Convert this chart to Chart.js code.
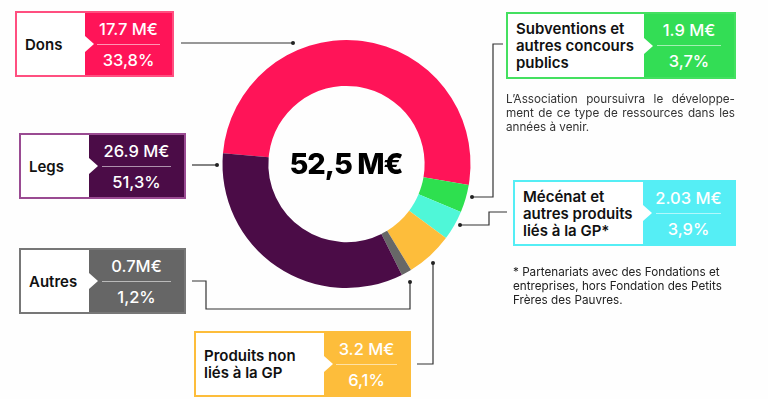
<!DOCTYPE html>
<html>
<head>
<meta charset="utf-8">
<script src="https://cdn.jsdelivr.net/npm/chart.js@4/dist/chart.umd.min.js"></script>
<style>
  html, body { margin: 0; padding: 0; background: #fefefe; }
  body { width: 768px; height: 399px; position: relative; overflow: hidden; font-family: Inter, "Noto Sans", sans-serif; }
  #mycanvas { position: absolute; left: 0; top: 0; }
  #links { position: absolute; left: 0; top: 0; }
  .box { position: absolute; box-sizing: border-box; border: 2px solid; display: flex; }
  .box .lab { background: #fff; position: relative; display: flex; align-items: center; padding-left: 8px; font-weight: 600; font-size: 15px; line-height: 17px; color: #111; }
  .box .lab:after { content: ""; position: absolute; right: -9px; top: 50%; margin-top: -8px; border-left: 9px solid #fff; border-top: 8px solid transparent; border-bottom: 8px solid transparent; z-index: 2; }
  .box .val { flex: 1; display: flex; flex-direction: column; justify-content: center; align-items: center; color: #fff; font-size: 16.5px; font-weight: 500; }
  .box .val .sep { width: 72%; height: 1px; background: rgba(255,255,255,0.55); margin: 5px 0 5px 0; }
  .center { position: absolute; left: 246px; top: 146px; width: 200px; text-align: center; font-size: 29px; font-weight: 800; letter-spacing: -1px; color: #000; }
  .note { position: absolute; font-size: 11.7px; line-height: 14px; color: #333; }
  .note .j { text-align: justify; text-align-last: justify; white-space: nowrap; }
</style>
</head>
<body>
<canvas id="mycanvas" width="768" height="399"></canvas>
<svg id="links" width="768" height="399"></svg>
<div class="center" id="total"></div>
<div id="boxes"></div>
<div class="note" style="left:506px;top:92px;width:229px;">
  <div class="j" style="white-space:normal">L’Association poursuivra le développe-</div>
  <div class="j" style="white-space:normal">ment de ce type de ressources dans les</div>
  <div>années à venir.</div>
</div>
<div class="note" style="left:513px;top:265px;width:240px;color:#222;">* Partenariats avec des Fondations et<br>entreprises, hors Fondation des Petits<br>Frères des Pauvres.</div>
<script>
// ring, clockwise from the left
var ringLabels = ['Legs', 'Subventions et autres concours publics', 'Mécénat et autres produits liés à la GP*', 'Produits non liés à la GP', 'Autres', 'Dons'];
var ringValues = [26.9, 1.9, 2.03, 3.2, 0.7, 17.7];
var ringColors = ['#ff1458', '#2ee04f', '#4ff7d8', '#fdbd3b', '#676767', '#4b0c47'];

// boxes
var boxNames = ['Dons', 'Legs', 'Autres', 'Produits non<br>liés à la GP', 'Subventions et<br>autres concours<br>publics', 'Mécénat et<br>autres produits<br>liés à la GP*'];
var boxAmounts = ['17.7 M€', '26.9 M€', '0.7M€', '3.2 M€', '1.9 M€', '2.03 M€'];
var boxPercents = ['33,8%', '51,3%', '1,2%', '6,1%', '3,7%', '3,9%'];
var boxFill = ['#ff1458', '#4b0c47', '#666666', '#fdbd3b', '#33dd55', '#55eef5'];
var boxBorder = ['#ff4f80', '#9a4b92', '#777777', '#fdbd3b', '#44e060', '#55eef5'];
var boxPos = [[15, 11, 159, 66, 68], [19, 133, 167, 66, 68], [19, 248, 167, 66, 68], [194, 331, 217, 66, 128], [506, 12, 230, 67, 136], [513, 180, 223, 66, 128]];

var total = '52,5 M€';

// connector paths
var links = [
  [[181, 43], [293, 43]],
  [[192, 165], [217, 165]],
  [[192, 281], [206, 281], [206, 309], [410, 309], [410, 282]],
  [[417, 364], [433, 364], [433, 263]],
  [[503, 44], [493, 44], [493, 197], [472, 197]],
  [[507, 212], [489, 212], [489, 225], [460, 225]]
];

document.getElementById('total').textContent = total;

var html = '';
for (var i = 0; i < boxNames.length; i++) {
  var p = boxPos[i];
  html += '<div class="box" style="left:' + p[0] + 'px;top:' + p[1] + 'px;width:' + p[2] + 'px;height:' + p[3] + 'px;border-color:' + boxBorder[i] + '">'
    + '<div class="lab" style="width:' + (p[4] - 8) + 'px">' + boxNames[i] + '</div>'
    + '<div class="val" style="background:' + boxFill[i] + '"><div>' + boxAmounts[i] + '</div><div class="sep"></div><div>' + boxPercents[i] + '</div></div>'
    + '</div>';
}
document.getElementById('boxes').innerHTML = html;

var svg = '';
for (var j = 0; j < links.length; j++) {
  var pts = links[j].map(function(q) { return q.join(','); }).join(' ');
  var end = links[j][links[j].length - 1];
  svg += '<polyline points="' + pts + '" fill="none" stroke="#333" stroke-width="1.2"/>';
  svg += '<circle cx="' + end[0] + '" cy="' + end[1] + '" r="2" fill="#222"/>';
}
document.getElementById('links').innerHTML = svg;

var ctx = document.getElementById('mycanvas');
var chart = new Chart(ctx, {
  type: 'doughnut',
  data: {
    labels: ringLabels,
    datasets: [{
      data: ringValues,
      backgroundColor: ringColors,
      borderWidth: 0
    }]
  },
  options: {
    responsive: false,
    animation: false,
    rotation: 275,
    cutout: '63%',
    layout: { padding: { left: 222, right: 297, top: 40, bottom: 111 } },
    plugins: { legend: { display: false }, tooltip: { enabled: false } }
  }
});
</script>
</body>
</html>
